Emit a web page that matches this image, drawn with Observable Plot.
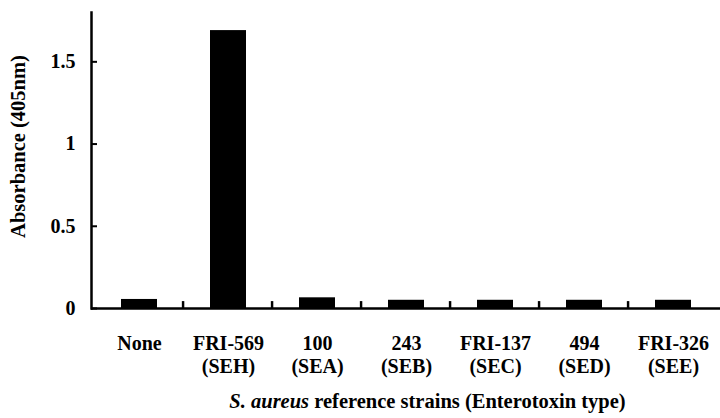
<!DOCTYPE html>
<html>
<head>
<meta charset="utf-8">
<script src="https://cdn.jsdelivr.net/npm/d3@7"></script>
<script src="https://cdn.jsdelivr.net/npm/@observablehq/plot@0.6"></script>
<style>
  html, body { margin: 0; padding: 0; background: #fff; }
  #chart svg { display: block; }
</style>
</head>
<body>
<div id="chart"></div>
<script>
const strains = ["None", "FRI-569", "100", "243", "FRI-137", "494", "FRI-326"];
const toxinTypes = ["", "(SEH)", "(SEA)", "(SEB)", "(SEC)", "(SED)", "(SEE)"];
const absorbance = [0.055, 1.69, 0.065, 0.05, 0.05, 0.05, 0.05];
const yTicks = [0, 0.5, 1, 1.5];
const yLabel = "Absorbance (405nm)";
const xLabelItalic = "S. aureus";
const xLabelRest = " reference strains (Enterotoxin type)";

const data = strains.map((s, i) => ({strain: s, type: toxinTypes[i], value: absorbance[i]}));
const labelOf = new Map(data.map(d => [d.strain, d.type ? d.strain + "\n" + d.type : d.strain]));

const W = 720, H = 418, ML = 91, MR = 0, MT = 12, MB = 110;
const padIn = 0.6, padOut = 0.3;
const step = (W - ML - MR) / strains.length;
const bw = step * (1 - padIn);
const font = "'Liberation Serif', 'Times New Roman', serif";

const plot = Plot.plot({
  width: W,
  height: H,
  marginLeft: ML,
  marginRight: MR,
  marginTop: MT,
  marginBottom: MB,
  style: {fontFamily: font, fontWeight: "bold", fontSize: "20px", color: "#000", background: "#fff"},
  x: {domain: strains, paddingInner: padIn, paddingOuter: padOut},
  y: {domain: [0, 1.8]},
  marks: [
    Plot.barY(data, {x: "strain", y: "value", fill: "#000"}),
    // small upward ticks between categories on the x baseline
    Plot.barY(strains.slice(1), {x: d => d, y1: 0, y2: 0.042, dx: -step / 2, insetLeft: bw / 2 - 1.2, insetRight: bw / 2 - 1.2, fill: "#000"}),
    // inward ticks on the y axis
    Plot.tickY(yTicks, {y: d => d, insetRight: W - ML - MR - 6, stroke: "#000", strokeWidth: 2}),
    Plot.ruleY([0], {stroke: "#000", strokeWidth: 2.5}),
    Plot.frame({anchor: "left", stroke: "#000", strokeWidth: 2.5}),
    Plot.axisY({ticks: yTicks, tickSize: 0, tickPadding: 16, label: null, fontSize: 20, fontWeight: "bold", tickFormat: d => String(d)}),
    Plot.axisX({tickSize: 0, tickPadding: 25, label: null, fontSize: 20, fontWeight: "bold", lineHeight: 1.15, tickFormat: d => labelOf.get(d)}),
    Plot.text([yLabel], {frameAnchor: "left", textAnchor: "middle", rotate: -90, dx: -73, dy: -14, fontSize: 20.5, fontWeight: "bold"})
  ]
});

document.getElementById("chart").appendChild(plot);

// x-axis title with italic species name
const svg = d3.select(plot);
const t = svg.append("text")
  .attr("x", (ML + W - MR) / 2 + 22)
  .attr("y", 408)
  .attr("text-anchor", "middle")
  .attr("font-size", 20.5)
  .attr("font-weight", "bold")
  .attr("font-family", font)
  .attr("fill", "#000");
t.append("tspan").attr("font-style", "italic").text(xLabelItalic);
t.append("tspan").text(xLabelRest);
</script>
</body>
</html>
